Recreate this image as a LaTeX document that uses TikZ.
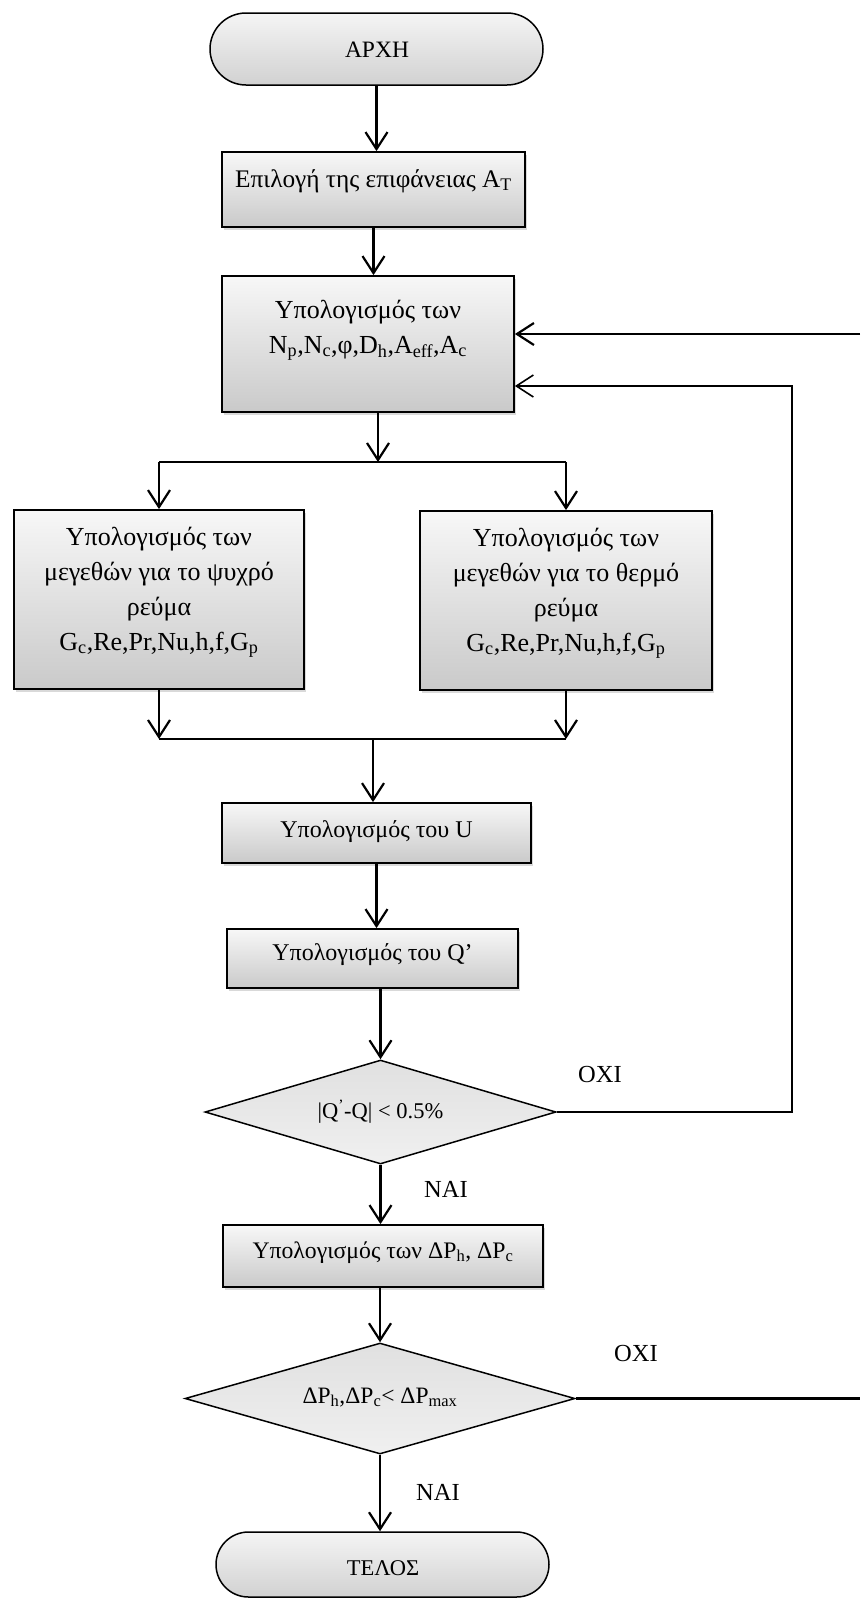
\documentclass[tikz,border=0pt]{standalone}
\usepackage{fontspec}
\setmainfont{Liberation Serif}
\usetikzlibrary{arrows.meta,shapes.geometric,shapes.misc,shadows,calc}

\newcommand\stacked[1]{\begin{tabular}[t]{@{}c@{}}#1\end{tabular}}
\newcommand\fsize[1]{\fontsize{#1}{35}\selectfont}

\tikzset{
  flowbox/.style={draw, line width=1.8pt, top color=gray!6, bottom color=gray!42,
    drop shadow={shadow xshift=1.5pt, shadow yshift=-3pt, opacity=0.3},
    inner sep=0pt, rectangle},
  terminal/.style={rounded rectangle, draw, line width=1.5pt,
    top color=gray!8, bottom color=gray!36, inner sep=0pt},
  decision/.style={diamond, draw, line width=1.5pt,
    top color=gray!24, bottom color=gray!12, inner sep=0pt},
  txt/.style={font=\fsize{23}, anchor=base, inner sep=0pt},
  bigtxt/.style={txt, font=\fsize{26}},
  flow/.style={line width=2.2pt, -{Straight Barb[length=17pt,width=22pt]}},
  link/.style={line width=2.2pt},
  backflow/.style={line width=1.6pt, -{Straight Barb[length=17pt,width=22pt]}},
}

\begin{document}
\begin{tikzpicture}[x=1pt,y=-1pt]
\useasboundingbox (0,0) rectangle (860,1599);

% shapes
\node[terminal, minimum width=333pt, minimum height=72pt] (start) at (376.5,49) {};
\node[flowbox, minimum width=303pt, minimum height=75pt] (b1) at (373.5,189.5) {};
\node[flowbox, minimum width=292pt, minimum height=136pt] (b2) at (368,344) {};
\node[flowbox, minimum width=290pt, minimum height=179pt] (bL) at (159,599.5) {};
\node[flowbox, minimum width=292pt, minimum height=179pt] (bR) at (566,600.5) {};
\node[flowbox, minimum width=309pt, minimum height=60pt] (bU) at (376.5,833) {};
\node[flowbox, minimum width=291pt, minimum height=59pt] (bQ) at (372.5,958.5) {};
\node[decision, minimum width=351pt, minimum height=104pt] (d1) at (380.5,1112) {};
\node[flowbox, minimum width=320pt, minimum height=62pt] (bP) at (383,1256) {};
\node[decision, minimum width=390pt, minimum height=111pt] (d2) at (380,1398.5) {};
\node[terminal, minimum width=333pt, minimum height=65pt] (end) at (382.5,1564.5) {};

% texts
\node[txt, font=\fsize{23.5}] (tstart) at (377,57) {ΑΡΧΗ};
\node[txt, font=\fsize{25.3}] (t1) at (373.5,187) {Επιλογή της επιφάνειας Α\textsubscript{Τ}};
\node[bigtxt] (t2) at (368,318) {\stacked{Υπολογισμός των\\
  N\textsubscript{p},N\textsubscript{c},φ,D\textsubscript{h},A\textsubscript{eff},A\textsubscript{c}}};
\node[bigtxt] (tL) at (159,545) {\stacked{Υπολογισμός των\\μεγεθών για το ψυχρό\\ρεύμα\\
  G\textsubscript{c},Re,Pr,Nu,h,f,G\textsubscript{p}}};
\node[bigtxt] (tR) at (566,546) {\stacked{Υπολογισμός των\\μεγεθών για το θερμό\\ρεύμα\\
  G\textsubscript{c},Re,Pr,Nu,h,f,G\textsubscript{p}}};
\node[txt, font=\fsize{24}] (tU) at (376.5,837) {Υπολογισμός του U};
\node[txt, font=\fsize{24}] (tQ) at (372.5,960) {Υπολογισμός του Q’};
\node[txt, font=\fsize{22.5}] (td1) at (380.5,1118) {|Q\textsuperscript{’}-Q| < 0.5\%};
\node[txt, font=\fsize{23.7}] (tP) at (383,1258) {Υπολογισμός των ΔP\textsubscript{h}, ΔP\textsubscript{c}};
\node[txt, font=\fsize{23.5}] (td2) at (380,1403) {ΔP\textsubscript{h},ΔP\textsubscript{c}< ΔP\textsubscript{max}};
\node[txt, font=\fsize{22.5}] (tend) at (383,1575) {ΤΕΛΟΣ};
\node[txt, font=\fsize{24.5}] (no1) at (600,1082) {ΟΧΙ};
\node[txt, font=\fsize{24.5}] (yes1) at (446,1197) {ΝΑΙ};
\node[txt, font=\fsize{24.5}] (no2) at (636,1361) {ΟΧΙ};
\node[txt, font=\fsize{24.5}] (yes2) at (438,1500) {ΝΑΙ};

% junction points
\coordinate (split) at (378,462);
\coordinate (sL) at (159,462);
\coordinate (sR) at (566,462);
\coordinate (join) at (373,739);
\coordinate (jL) at (159,739);
\coordinate (jR) at (566,739);
\coordinate (c1) at (792,386);
\coordinate (e1) at (860,334);

% connectors
\draw[flow] (start.south) -- (start.south |- b1.north);
\draw[flow] (b1.south) -- (b1.south |- b2.north);
\draw[flow] (b2.south -| split) -- (split);
\draw[link] (sL) -- (sR);
\draw[flow] (sL) -- (bL.north);
\draw[flow] (sR) -- (bR.north);
\draw[flow] (bL.south) -- (jL);
\draw[flow] (bR.south) -- (jR);
\draw[link] (jL) -- (jR);
\draw[flow] (join) -- (join |- bU.north);
\draw[flow] (bU.south) -- (bU.south |- bQ.north);
\draw[flow] (d1.north |- bQ.south) -- (d1.north);
\draw[flow] (d1.south) -- (d1.south |- bP.north);
\draw[flow] (d2.north |- bP.south) -- (d2.north);
\draw[flow] (d2.south) -- (d2.south |- end.north);
\draw[backflow] (d1.east) -| (c1) -- (b2.east |- c1);
\draw[flow] (e1) -- (b2.east |- e1);
\draw[link] (d2.east) -- (d2.east -| e1);
\end{tikzpicture}
\end{document}
